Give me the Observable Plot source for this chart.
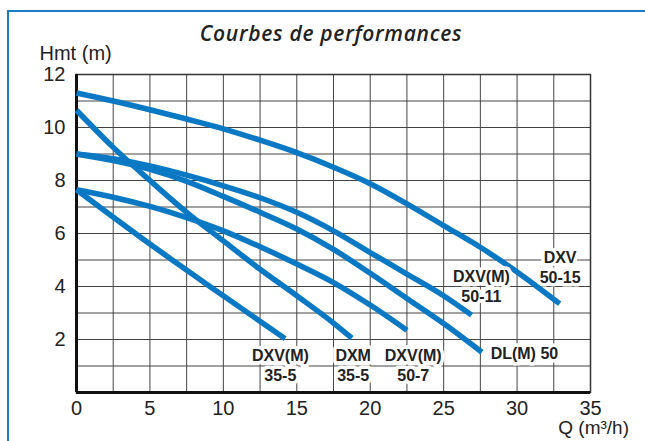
<!DOCTYPE html>
<html>
<head>
<meta charset="utf-8">
<script src="https://cdn.jsdelivr.net/npm/d3@7"></script>
<script src="https://cdn.jsdelivr.net/npm/@observablehq/plot@0.6"></script>
<style>
  html, body { margin: 0; padding: 0; background: #fff; overflow: hidden; }
  #wrap { position: relative; width: 645px; height: 441px; overflow: hidden; font-family: "Liberation Sans", Arial, sans-serif; }
  #topline { position: absolute; left: 7px; top: 10px; width: 700px; height: 2px; background: #1a7dc4; }
  #leftline { position: absolute; left: 7px; top: 10px; width: 2px; height: 500px; background: #1a7dc4; }
  #title { position: absolute; left: 0; top: 23px; width: 662px; text-align: center; font: italic 600 21px/20px "Open Sans", sans-serif; letter-spacing: 0.7px; color: #222; }
  #chart { position: absolute; left: 0; top: 44px; }
  #chart svg, #chart svg text { font-family: "Liberation Sans", Arial, sans-serif; }
</style>
</head>
<body>
<div id="wrap">
  <div id="topline"></div>
  <div id="leftline"></div>
  <div id="title">Courbes de performances</div>
  <div id="chart"></div>
</div>
<script>
// Data (Q in m³/h, Hmt in m)
const qDXV5015  = [0, 2.5, 5, 7.5, 10, 12.5, 15, 17.5, 20, 22.5, 25, 27.5, 30, 32.9];
const hDXV5015  = [11.3, 11.0, 10.67, 10.32, 9.95, 9.52, 9.05, 8.5, 7.88, 7.12, 6.3, 5.48, 4.55, 3.35];

const qDXVM5011 = [0, 2.5, 5, 7.5, 10, 12.5, 15, 17.5, 20, 22.5, 25, 26.9];
const hDXVM5011 = [9.0, 8.82, 8.55, 8.2, 7.8, 7.35, 6.8, 6.1, 5.28, 4.47, 3.65, 2.92];

const qDLM50    = [0, 2.5, 5, 7.5, 10, 12.5, 15, 17.5, 20, 22.5, 25, 27.6];
const hDLM50    = [9.0, 8.75, 8.42, 7.97, 7.4, 6.8, 6.17, 5.4, 4.5, 3.55, 2.6, 1.52];

const qDXVM507  = [0, 2.5, 5, 7.5, 10, 12.5, 15, 17.5, 20, 22.5];
const hDXVM507  = [7.65, 7.37, 7.02, 6.6, 6.1, 5.5, 4.85, 4.15, 3.3, 2.35];

const qDXM355   = [0, 2.5, 5, 7.5, 10, 12.5, 15, 17.5, 18.75];
const hDXM355   = [10.65, 9.25, 8.0, 6.8, 5.72, 4.65, 3.65, 2.62, 2.05];

const qDXVM355  = [0, 5, 10, 14.2];
const hDXVM355  = [7.65, 5.6, 3.65, 2.03];

// Curve labels and where they sit (data coordinates)
const labelText = ["DXV(M)\n35-5", "DXM\n35-5", "DXV(M)\n50-7", "DL(M) 50", "DXV(M)\n50-11", "DXV\n50-15"];
const labelQ    = [13.88, 18.84, 22.93, 30.5, 27.57, 32.93];
const labelH    = [1.045, 1.045, 1.045, 1.49, 4.03, 4.74];

// Axes
const xTicks = [0, 5, 10, 15, 20, 25, 30, 35];
const yTicks = [2, 4, 6, 8, 10, 12];
const xGrid  = d3.range(0, 35.01, 2.5);
const yGrid  = d3.range(0, 12.01, 1);

const series = [
  ["DXV 50-15", qDXV5015, hDXV5015],
  ["DXV(M) 50-11", qDXVM5011, hDXVM5011],
  ["DL(M) 50", qDLM50, hDLM50],
  ["DXV(M) 50-7", qDXVM507, hDXVM507],
  ["DXM 35-5", qDXM355, hDXM355],
  ["DXV(M) 35-5", qDXVM355, hDXVM355]
];
const curves = series.flatMap(([model, qs, hs]) => qs.map((q, i) => ({model, q, h: hs[i]})));
const labels = labelText.map((t, i) => ({t, q: labelQ[i], h: labelH[i]}));

const blue = "#0a78c2";

const chart = Plot.plot({
  width: 645,
  height: 397,
  marginLeft: 76,
  marginRight: 55,
  marginTop: 30,
  marginBottom: 49,
  style: {fontFamily: '"Liberation Sans", Arial, sans-serif', fontSize: "20px", color: "#222", background: "transparent", overflow: "visible"},
  x: {domain: [0, 35]},
  y: {domain: [0, 12]},
  marks: [
    Plot.gridX(xGrid, {stroke: "#444", strokeOpacity: 1, strokeWidth: 1}),
    Plot.gridY(yGrid, {stroke: "#444", strokeOpacity: 1, strokeWidth: 1}),
    Plot.frame({stroke: "#333", strokeWidth: 1.5}),
    Plot.ruleX([0], {stroke: "#111", strokeWidth: 3}),
    Plot.ruleY([0], {stroke: "#111", strokeWidth: 3}),
    Plot.axisX(xTicks, {tickSize: 0, tickPadding: 8, fontSize: 20, label: null}),
    Plot.axisY(yTicks, {tickSize: 0, tickPadding: 11, fontSize: 20, label: null}),
    Plot.line(curves, {x: "q", y: "h", z: "model", stroke: blue, strokeWidth: 5.5, curve: "monotone-x", strokeLinecap: "butt", strokeLinejoin: "round"}),
    Plot.text(labels, {x: "q", y: "h", text: "t", fontSize: 16, fontWeight: "bold", fill: "#222", stroke: "white", strokeWidth: 7, lineHeight: 1.25, textAnchor: "middle", lineAnchor: "middle"}),
    Plot.text(["Hmt (m)"], {frameAnchor: "top-left", textAnchor: "start", lineAnchor: "bottom", dx: -37, dy: -15, fontSize: 20, fill: "#222"}),
    Plot.text(["Q (m³/h)"], {frameAnchor: "bottom-right", textAnchor: "end", lineAnchor: "bottom", dx: 38.5, dy: 41, fontSize: 19, fill: "#222"})
  ]
});
document.getElementById("chart").appendChild(chart);
</script>
</body>
</html>
